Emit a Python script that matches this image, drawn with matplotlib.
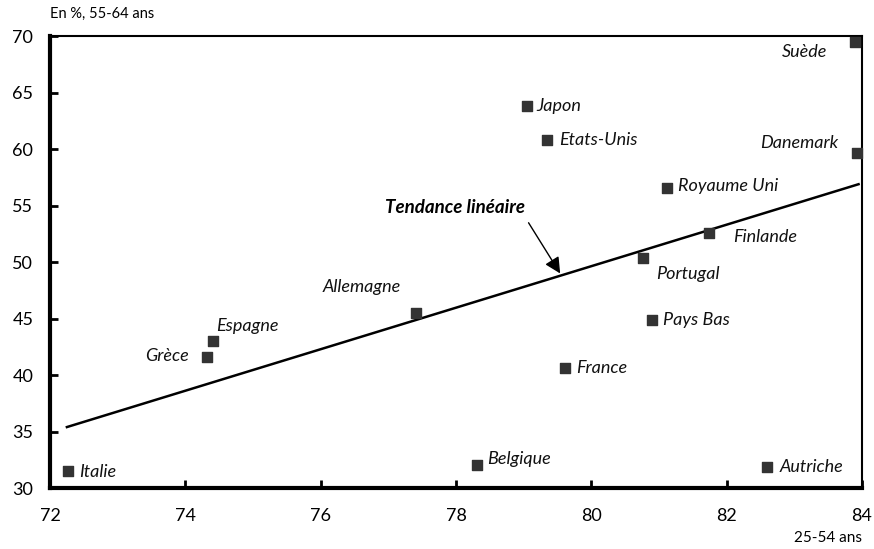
import matplotlib.pyplot as plt

pays = ["Italie", "Grèce", "Espagne", "Allemagne", "Belgique", "France",
        "Japon", "Etats-Unis", "Portugal", "Pays Bas", "Royaume Uni",
        "Finlande", "Autriche", "Danemark", "Suède"]
# taux d'emploi 25-54 ans
x_25_54 = [72.27, 74.32, 74.41, 77.41, 78.31, 79.61, 79.05, 79.34,
           80.76, 80.90, 81.12, 81.74, 82.60, 83.93, 83.90]
# taux d'emploi 55-64 ans
y_55_64 = [31.5, 41.6, 43.0, 45.5, 32.0, 40.6, 63.8, 60.8,
           50.4, 44.9, 56.6, 52.6, 31.9, 59.7, 69.5]

# tendance linéaire (extrémités)
trend_x = [72.25, 83.95]
trend_y = [35.4, 56.9]

# décalage des étiquettes (points) et alignement
offsets = {
    "Italie": (8, -0.5, "left"), "Grèce": (-13, 0.5, "right"),
    "Espagne": (2, 11, "left"), "Allemagne": (-39, 19, "center"),
    "Belgique": (7, 5, "left"), "France": (8, 0, "left"),
    "Japon": (7, 0, "left"), "Etats-Unis": (9, 0, "left"),
    "Portugal": (10, -12, "left"), "Pays Bas": (8, 0, "left"),
    "Royaume Uni": (8, 1, "left"), "Finlande": (17, -3, "left"),
    "Autriche": (9, 0, "left"), "Danemark": (-14, 7, "right"),
    "Suède": (-20, -7, "right"),
}

plt.rcParams["font.family"] = ["Lato", "DejaVu Sans"]

fig = plt.figure(figsize=(8.74, 5.49), dpi=100)
ax = fig.add_axes([0.0572, 0.111, 0.929, 0.823])

ax.plot(trend_x, trend_y, color="black", lw=1.8, zorder=2)
ax.scatter(x_25_54, y_55_64, marker="s", s=52, color="#333333", zorder=3,
           clip_on=False)

for p, xv, yv in zip(pays, x_25_54, y_55_64):
    dx, dy, ha = offsets[p]
    ax.annotate(p, (xv, yv), xytext=(dx, dy), textcoords="offset points",
                ha=ha, va="center", fontsize=13, style="italic", color="#111111")

ax.annotate("Tendance linéaire", xy=(79.54, 49.0), xytext=(77.98, 54.8),
            ha="center", va="center", fontsize=13.5, style="italic",
            fontweight="bold",
            arrowprops=dict(arrowstyle="-|>", color="black", lw=1,
                            mutation_scale=24,
                            shrinkA=3, shrinkB=0,
                            relpos=(1.0, 0.0)))

ax.set_xlim(72, 84)
ax.set_ylim(30, 70)
ax.set_xticks([72, 74, 76, 78, 80, 82, 84])
ax.set_yticks([30, 35, 40, 45, 50, 55, 60, 65, 70])
ax.tick_params(direction="in", length=6, width=2, labelsize=13)
ax.tick_params(axis="x", pad=14)
ax.tick_params(axis="y", pad=12)

ax.spines["left"].set_linewidth(3)
ax.spines["bottom"].set_linewidth(3)
ax.spines["top"].set_linewidth(1.5)
ax.spines["right"].set_linewidth(1.5)

fig.text(0.057, 0.975, "En %, 55-64 ans", fontsize=10.5, ha="left", va="center")
fig.text(0.986, 0.02, "25-54 ans", fontsize=11, ha="right", va="center")

fig.savefig("out.png", dpi=100)
